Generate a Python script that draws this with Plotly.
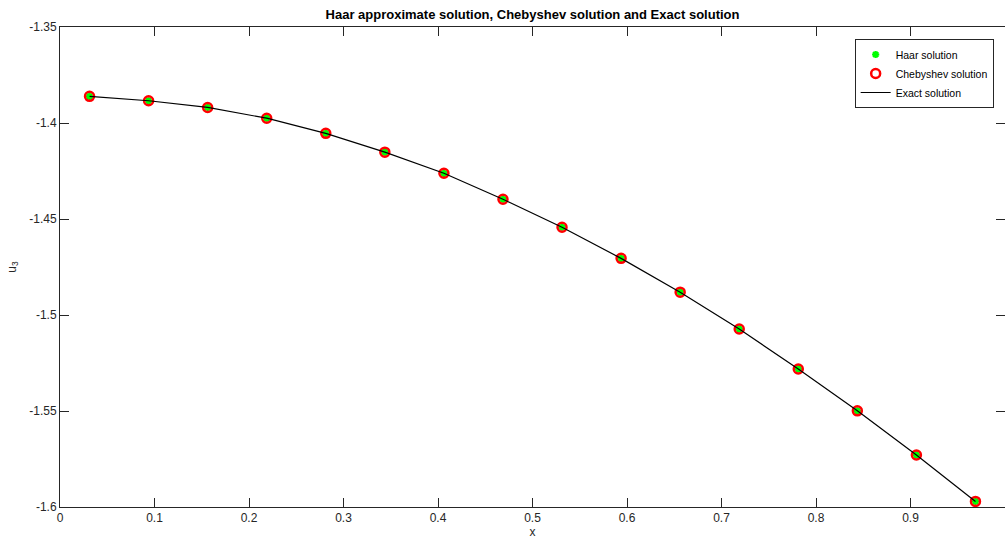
import plotly.graph_objects as go

x_vals = [0.03125, 0.09375, 0.15625, 0.21875, 0.28125, 0.34375, 0.40625, 0.46875,
          0.53125, 0.59375, 0.65625, 0.71875, 0.78125, 0.84375, 0.90625, 0.96875]
haar_vals = [-1.3861, -1.3884, -1.3919, -1.3975, -1.4054, -1.4152, -1.4262, -1.4397,
             -1.4543, -1.4705, -1.4881, -1.5073, -1.5281, -1.5499, -1.5729, -1.5971]
cheb_vals = [-1.3861, -1.3884, -1.3919, -1.3975, -1.4054, -1.4152, -1.4262, -1.4397,
             -1.4543, -1.4705, -1.4881, -1.5073, -1.5281, -1.5499, -1.5729, -1.5971]
exact_vals = [-1.3861, -1.3884, -1.3919, -1.3975, -1.4054, -1.4152, -1.4262, -1.4397,
              -1.4543, -1.4705, -1.4881, -1.5073, -1.5281, -1.5499, -1.5729, -1.5971]

x_ticks = [0, 0.1, 0.2, 0.3, 0.4, 0.5, 0.6, 0.7, 0.8, 0.9, 1]
x_tick_text = ["0", "0.1", "0.2", "0.3", "0.4", "0.5", "0.6", "0.7", "0.8", "0.9", "1"]
y_ticks = [-1.6, -1.55, -1.5, -1.45, -1.4, -1.35]
y_tick_text = ["-1.6", "-1.55", "-1.5", "-1.45", "-1.4", "-1.35"]

FONT = "Liberation Sans, Arial, Helvetica"

fig = go.Figure()
fig.add_trace(go.Scatter(
    x=x_vals, y=haar_vals, mode="markers", name="Haar solution",
    marker=dict(symbol="asterisk-open", size=6, color="#00ff00",
                line=dict(color="#00ff00", width=2.2)),
))
fig.add_trace(go.Scatter(
    x=x_vals, y=cheb_vals, mode="markers", name="Chebyshev solution",
    marker=dict(symbol="circle-open", size=9, color="#ff0000",
                line=dict(color="#ff0000", width=2.5)),
))
fig.add_trace(go.Scatter(
    x=x_vals, y=exact_vals, mode="lines", name="Exact solution",
    line=dict(color="#000000", width=1.2),
))

axis_common = dict(
    showgrid=False, zeroline=False, showline=True, linecolor="#262626",
    linewidth=1, mirror="ticks", ticks="inside", ticklen=9, tickwidth=1,
    tickcolor="#262626", tickfont=dict(family=FONT, size=12, color="#262626"),
)

fig.update_layout(
    width=1005, height=546,
    margin=dict(l=60, r=0, t=27, b=39),
    paper_bgcolor="white", plot_bgcolor="white",
    title=dict(text="<b>Haar approximate solution, Chebyshev solution and Exact solution</b>",
               x=(60 + 1005) / 2 / 1005, xanchor="center", y=1 - 14 / 546, yanchor="middle",
               font=dict(family=FONT, size=13, color="#000000")),
    xaxis=dict(range=[0, 1], tickvals=x_ticks, ticktext=x_tick_text,
               title=dict(text="x", standoff=2,
                          font=dict(family=FONT, size=12, color="#262626")),
               **axis_common),
    yaxis=dict(range=[-1.6, -1.35], tickvals=y_ticks, ticktext=y_tick_text,
               title=dict(text="u<sub>3</sub>", standoff=10,
                          font=dict(family=FONT, size=12, color="#262626")),
               **axis_common),
    legend=dict(x=0.988, y=0.975, xanchor="right", yanchor="top",
                bgcolor="white", bordercolor="#262626", borderwidth=1,
                font=dict(family=FONT, size=10.5, color="#000000"),
                tracegroupgap=0),
    showlegend=True,
)

fig.write_html("out.html", config={"displayModeBar": False},
               post_script="document.body.style.margin='0';document.body.style.overflow='hidden';")
